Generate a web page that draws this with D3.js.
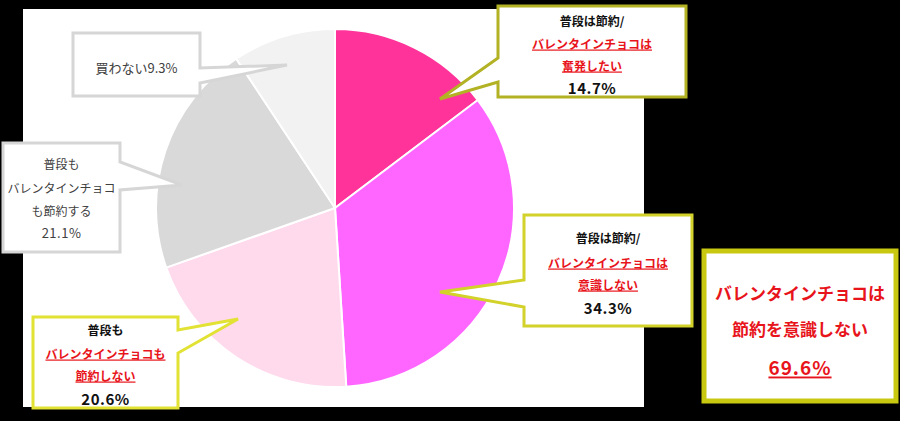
<!DOCTYPE html>
<html>
<head>
<meta charset="utf-8">
<script src="https://cdn.jsdelivr.net/npm/d3@7"></script>
<style>
  body { margin: 0; background: #000; }
  text { font-family: "Noto Sans CJK JP", "Noto Sans", sans-serif; }
</style>
</head>
<body>
<div id="chart"></div>
<script>
// data
var categories = [
  "普段は節約/バレンタインチョコは奮発したい",
  "普段は節約/バレンタインチョコは意識しない",
  "普段もバレンタインチョコも節約しない",
  "普段もバレンタインチョコも節約する",
  "買わない"
];
var values = [14.7, 34.3, 20.6, 21.1, 9.3];
// label lines per slice (1 = red underlined part)
var labelLines = [
  [["普段は節約/", 0], ["バレンタインチョコは", 1], ["奮発したい", 1]],
  [["普段は節約/", 0], ["バレンタインチョコは", 1], ["意識しない", 1]],
  [["普段も", 0], ["バレンタインチョコも", 1], ["節約しない", 1]],
  [["普段も", 0], ["バレンタインチョコ", 0], ["も節約する", 0]],
  []
];
var summaryLines = ["バレンタインチョコは", "節約を意識しない"];
var summaryValue = 69.6;

var colors = ["#FF3399", "#FF66FF", "#FFD9EC", "#D9D9D9", "#F2F2F2"];

var width = 900, height = 421;
var svg = d3.select("#chart").append("svg")
  .attr("width", width).attr("height", height);

svg.append("rect").attr("width", width).attr("height", height).attr("fill", "#000");
// white plot panel
svg.append("rect").attr("x", 23).attr("y", 9).attr("width", 621).attr("height", 398).attr("fill", "#fff");

// pie
var cx = 335, cy = 208, radius = 179;
var pie = d3.pie().sort(null).value(function (d) { return d; });
var arc = d3.arc().innerRadius(0).outerRadius(radius);

svg.append("g")
  .attr("transform", "translate(" + cx + "," + cy + ")")
  .selectAll("path")
  .data(pie(values))
  .enter()
  .append("path")
  .attr("d", arc)
  .attr("fill", function (d, i) { return colors[i]; })
  .attr("stroke", "#fff")
  .attr("stroke-width", 2);

// callout layouts (box, tail, text line centres)
var callouts = [
  { x: 498, y: 6, w: 188, h: 91, side: "left", b1: 58, b2: 82, tip: [440, 99],
    stroke: "#B2B224", bold: true, ys: [20, 43, 65, 87] },
  { x: 524, y: 215, w: 168, h: 111, side: "left", b1: 280, b2: 307, tip: [440, 292],
    stroke: "#D2D22A", bold: true, ys: [237, 262, 284, 307] },
  { x: 33, y: 317, w: 145, h: 91, side: "right", b1: 330, b2: 353, tip: [238, 319],
    stroke: "#E2E234", bold: true, ys: [329, 353, 375, 398] },
  { x: 3, y: 143, w: 117, h: 109, side: "right", b1: 162, b2: 190, tip: [182, 185],
    stroke: "#D6D6D6", bold: false, ys: [163, 187, 210, 232] },
  { x: 73, y: 33, w: 127, h: 63, side: "right", b1: 68, b2: 83, tip: [287, 65],
    stroke: "#D6D6D6", bold: false, ys: [67] }
];

function calloutPath(c) {
  var p = d3.path();
  var r = c.x + c.w, b = c.y + c.h;
  if (c.side === "left") {
    p.moveTo(c.x, c.y);
    p.lineTo(r, c.y);
    p.lineTo(r, b);
    p.lineTo(c.x, b);
    p.lineTo(c.x, c.b2);
    p.lineTo(c.tip[0], c.tip[1]);
    p.lineTo(c.x, c.b1);
  } else {
    p.moveTo(c.x, c.y);
    p.lineTo(r, c.y);
    p.lineTo(r, c.b1);
    p.lineTo(c.tip[0], c.tip[1]);
    p.lineTo(r, c.b2);
    p.lineTo(r, b);
    p.lineTo(c.x, b);
  }
  p.closePath();
  return p.toString();
}

callouts.forEach(function (c, i) {
  var g = svg.append("g");
  g.append("path")
    .attr("d", calloutPath(c))
    .attr("fill", "#fff")
    .attr("stroke", c.stroke)
    .attr("stroke-width", 3)
    .attr("stroke-linejoin", "miter");

  var mx = c.x + c.w / 2;
  var lines = labelLines[i].slice();
  var pct = values[i] + "%";
  if (i === 4) {
    lines = [[categories[4] + pct, 0]];
  } else {
    lines.push([pct, 0]);
  }
  lines.forEach(function (ln, j) {
    var isPct = j === lines.length - 1 && i !== 4;
    var size = c.bold ? (isPct ? 15 : 12) : (isPct || i === 4 ? 13 : 12);
    g.append("text")
      .attr("x", mx)
      .attr("y", c.ys[j])
      .attr("text-anchor", "middle")
      .attr("dominant-baseline", "central")
      .attr("font-size", size + "px")
      .attr("font-weight", c.bold ? "bold" : "normal")
      .attr("letter-spacing", isPct ? "0.5px" : "0px")
      .attr("fill", ln[1] ? "#E8141B" : (c.bold ? "#111" : "#404040"))
      .style("text-decoration", ln[1] ? "underline" : "none")
      .text(ln[0]);
  });
});

// summary box
var sg = svg.append("g");
sg.append("rect")
  .attr("x", 704).attr("y", 251).attr("width", 192).attr("height", 150)
  .attr("fill", "#fff")
  .attr("stroke", "#C8C810")
  .attr("stroke-width", 5);
var sy = [292, 328];
summaryLines.forEach(function (t, j) {
  sg.append("text")
    .attr("x", 800).attr("y", sy[j])
    .attr("text-anchor", "middle")
    .attr("dominant-baseline", "central")
    .attr("font-size", "17px")
    .attr("font-weight", "bold")
    .attr("fill", "#E8141B")
    .text(t);
});
sg.append("text")
  .attr("x", 800).attr("y", 366)
  .attr("text-anchor", "middle")
  .attr("dominant-baseline", "central")
  .attr("font-size", "19px")
  .attr("font-weight", "bold")
  .attr("letter-spacing", "1px")
  .attr("fill", "#E8141B")
  .style("text-decoration", "underline")
  .text(summaryValue + "%");
</script>
</body>
</html>
